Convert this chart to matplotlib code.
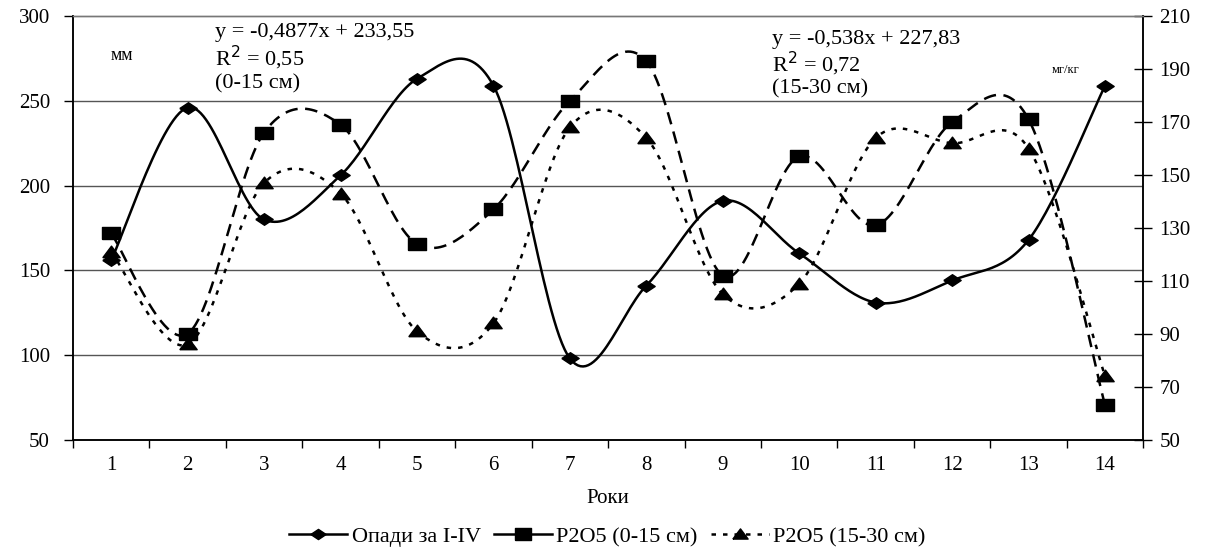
import matplotlib.pyplot as plt
from matplotlib.lines import Line2D
import numpy as np

plt.rcParams['font.family'] = ['Liberation Serif', 'DejaVu Serif']

years = list(range(1, 15))
opady = [156, 246, 180, 206, 263, 259, 98, 141, 191, 160, 131, 144, 168, 259]
p2o5_0_15 = [128, 90, 166, 169, 124, 137, 178, 193, 112, 157, 131, 170, 171, 63]
p2o5_15_30 = [121, 86, 147, 143, 91, 94, 168, 164, 105, 109, 164, 162, 160, 74]

eq1 = ['y = -0,4877x + 233,55', 'R$^2$ = 0,55', '(0-15 см)']
eq2 = ['y = -0,538x + 227,83', 'R$^2$ = 0,72', '(15-30 см)']


def smooth(xs, ys, n=30):
    # Excel-like smoothed line: cubic bezier with catmull-rom control points
    x = np.asarray(xs, float)
    y = np.asarray(ys, float)
    px, py = [], []
    for i in range(len(x) - 1):
        i0 = max(i - 1, 0)
        i3 = min(i + 2, len(x) - 1)
        c1x = x[i] + (x[i + 1] - x[i0]) / 6
        c1y = y[i] + (y[i + 1] - y[i0]) / 6
        c2x = x[i + 1] - (x[i3] - x[i]) / 6
        c2y = y[i + 1] - (y[i3] - y[i]) / 6
        t = np.linspace(0, 1, n)
        bx = (1-t)**3*x[i] + 3*(1-t)**2*t*c1x + 3*(1-t)*t**2*c2x + t**3*x[i+1]
        by = (1-t)**3*y[i] + 3*(1-t)**2*t*c1y + 3*(1-t)*t**2*c2y + t**3*y[i+1]
        px.extend(bx)
        py.extend(by)
    return px, py


# markers are a bit wider than tall in the original
m_diamond = [(-0.75, 0), (0, 0.5), (0.75, 0), (0, -0.5), (-0.75, 0)]
m_square = [(-0.7, -0.5), (0.7, -0.5), (0.7, 0.5), (-0.7, 0.5), (-0.7, -0.5)]
m_tri = [(-0.75, -0.45), (0.75, -0.45), (0, 0.55), (-0.75, -0.45)]

lw = 1.8
dash1 = (5.0, 3.0)
dash2 = (1.8, 2.8)

fig = plt.figure(figsize=(12.15, 5.56), dpi=100)
ax = fig.add_axes([0.060, 0.209, 0.881, 0.762])
ax2 = ax.twinx()

sx, sy = smooth(years, opady)
ax.plot(sx, sy, color='black', lw=lw, zorder=3)
ax.plot(years, opady, ls='none', marker=m_diamond, color='black', ms=12.5, zorder=4)

sx, sy = smooth(years, p2o5_0_15)
ax2.plot(sx, sy, color='black', lw=lw, dashes=dash1)
ax2.plot(years, p2o5_0_15, ls='none', marker=m_square, color='black', ms=13)

sx, sy = smooth(years, p2o5_15_30)
ax2.plot(sx, sy, color='black', lw=lw, dashes=dash2)
ax2.plot(years, p2o5_15_30, ls='none', marker=m_tri, color='black', ms=12.5)

ax.set_xlim(0.5, 14.5)
ax.set_ylim(50, 300)
ax2.set_ylim(50, 210)
ax.set_yticks([50, 100, 150, 200, 250, 300])
ax2.set_yticks(list(range(50, 211, 20)))

for v in [100, 150, 200, 250]:
    ax.axhline(v, color='#555555', lw=1.0, zorder=1)

ax.set_xticks(np.arange(0.5, 15, 1))
ax.set_xticklabels([])
ax.set_xticks(years, minor=True)
ax.set_xticklabels([str(y) for y in years], minor=True)
ax.tick_params(axis='x', which='minor', length=0, pad=12, labelsize=15)
ax.tick_params(axis='x', which='major', direction='out', length=6, width=1)
ax.tick_params(axis='y', direction='out', length=6.5, width=1, labelsize=15, pad=10)
ax2.tick_params(axis='y', direction='inout', length=13, width=1, labelsize=15, pad=5)

for a in (ax, ax2):
    a.spines['top'].set_color('#777777')
    a.spines['top'].set_linewidth(1.0)
    for s in ('left', 'right', 'bottom'):
        a.spines[s].set_linewidth(1.1)

ax.set_xlabel('Роки', fontsize=15, labelpad=10)

ax.text(1.0, 277, 'мм', fontsize=13, va='center')
ax.text(13.3, 268, 'мг/кг', fontsize=9, va='center')
for i, s in enumerate(eq1):
    ax.text(2.36, 290.5 - i * 15.2, s, fontsize=16, va='center')
for i, s in enumerate(eq2):
    ax.text(9.64, 286.5 - i * 14.8, s, fontsize=16, va='center')

handles = [
    Line2D([], [], color='black', lw=lw, marker=m_diamond, ms=11),
    Line2D([], [], color='black', lw=lw, marker=m_square, ms=12),
    Line2D([], [], color='black', lw=lw, dashes=dash2, marker=m_tri, ms=11),
]
labels = ['Опади за I-IV', 'P2O5 (0-15 см)', 'P2O5 (15-30 см)']
fig.legend(handles, labels, loc='lower center', bbox_to_anchor=(0.5, -0.02),
           ncol=3, frameon=False, fontsize=16, handlelength=2.6,
           handletextpad=0.2, columnspacing=0.6)

fig.savefig('out.png', dpi=100)
